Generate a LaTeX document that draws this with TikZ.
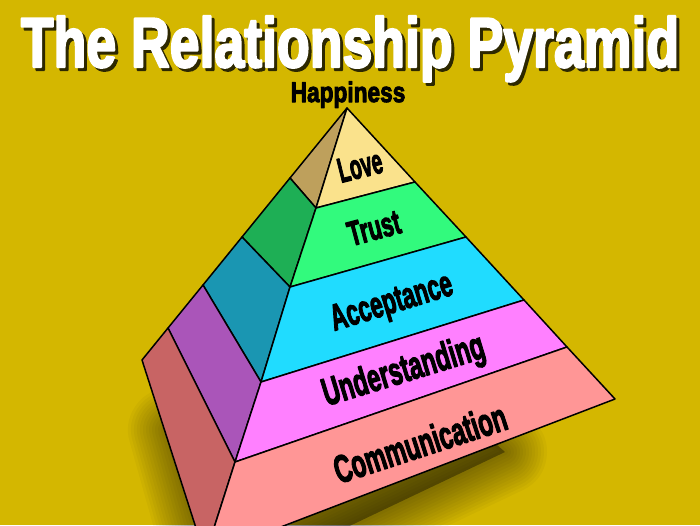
\documentclass[tikz,border=0pt]{standalone}
\usepackage{fontspec}
\usetikzlibrary{calc}
\newfontfamily\impfam{Liberation Sans}[BoldFeatures={FakeBold=3.5}]
\definecolor{bgcol}{RGB}{212,183,0}
\definecolor{loveF}{RGB}{250,226,140}
\definecolor{loveL}{RGB}{190,160,92}
\definecolor{trustF}{RGB}{50,250,125}
\definecolor{trustL}{RGB}{30,175,85}
\definecolor{accF}{RGB}{32,220,255}
\definecolor{accL}{RGB}{26,150,178}
\definecolor{undF}{RGB}{255,128,255}
\definecolor{undL}{RGB}{170,85,185}
\definecolor{comF}{RGB}{255,150,150}
\definecolor{comL}{RGB}{200,100,100}
\definecolor{tshadow}{RGB}{45,40,0}
\begin{document}
\begin{tikzpicture}[x=1pt,y=-1pt,line join=round,
  edge/.style={draw=black,line width=1.5pt},
  bandlabel/.style={text=black,inner sep=0pt,font=\impfam\bfseries},
  titlefont/.style={inner sep=0pt,anchor=base,font=\impfam\bfseries\fontsize{67}{70}\selectfont},
  shadowstroke/.style={draw=black,opacity=0.03,line join=round}]
\useasboundingbox (0,0) rectangle (700,525);
\fill[bgcol] (0,0) rectangle (700,525);
\clip (0,0) rectangle (700,525);
% key points
\coordinate (A) at (347,108);
\coordinate (L1) at (290,178);
\coordinate (L2) at (242,237);
\coordinate (L3) at (203,285);
\coordinate (L4) at (168,328);
\coordinate (L5) at (142,360);
\coordinate (F1) at (316,208);
\coordinate (F2) at (290,287);
\coordinate (F3) at (261,382);
\coordinate (F4) at (235,462);
\coordinate (B) at (205,556);
\coordinate (R1) at (415,182);
\coordinate (R2) at (466,237);
\coordinate (R3) at (524,300);
\coordinate (R4) at (567,347);
\coordinate (R5) at (615,399);
% soft shadow
\coordinate (S1) at (170,430);
\coordinate (S2) at (215,590);
\coordinate (S3) at (505,452);
\coordinate (S4) at (430,385);
\fill[black,opacity=0.35] (S1)--(S2)--(S3)--(S4)--cycle;
\foreach \w in {84,78,...,6}
  \draw[shadowstroke,line width=\w pt] (S1)--(S2)--(S3)--(S4)--cycle;
% left face
\filldraw[edge,fill=loveL] (A)--(L1)--(F1)--cycle;
\filldraw[edge,fill=trustL] (L1)--(L2)--(F2)--(F1)--cycle;
\filldraw[edge,fill=accL] (L2)--(L3)--(F3)--(F2)--cycle;
\filldraw[edge,fill=undL] (L3)--(L4)--(F4)--(F3)--cycle;
\filldraw[edge,fill=comL] (L4)--(L5)--(B)--(F4)--cycle;
% front face
\filldraw[edge,fill=loveF] (A)--(F1)--(R1)--cycle;
\filldraw[edge,fill=trustF] (F1)--(F2)--(R2)--(R1)--cycle;
\filldraw[edge,fill=accF] (F2)--(F3)--(R3)--(R2)--cycle;
\filldraw[edge,fill=undF] (F3)--(F4)--(R4)--(R3)--cycle;
\filldraw[edge,fill=comF] (F4)--(B)--(R5)--(R4)--cycle;
% band labels
\node[bandlabel,rotate=14] (love) at (360,166) {\scalebox{0.6}[1.08]{\fontsize{32}{34}\selectfont Love}};
\node[bandlabel,rotate=15] (trust) at (374,228) {\scalebox{0.68}[1.08]{\fontsize{32}{34}\selectfont Trust}};
\node[bandlabel,rotate=17] (acc) at (392,304) {\scalebox{0.66}[1.08]{\fontsize{34}{36}\selectfont Acceptance}};
\node[bandlabel,rotate=17] (und) at (404,372) {\scalebox{0.66}[1.08]{\fontsize{36}{38}\selectfont Understanding}};
\node[bandlabel,rotate=18] (com) at (420,443) {\scalebox{0.66}[1.08]{\fontsize{36}{38}\selectfont Communication}};
% top label
\node[inner sep=0pt,anchor=base,font=\impfam\bfseries\fontsize{27}{28}\selectfont] (happy) at (348,102) {\scalebox{0.84}[1.05]{Happiness}};
% title
\node[titlefont,text=tshadow] (titleshadow) at (353,70) {\scalebox{0.8}[1.05]{The Relationship Pyramid}};
\node[titlefont,text=white] (title) at (350,67) {\scalebox{0.8}[1.05]{The Relationship Pyramid}};
\end{tikzpicture}
\end{document}
